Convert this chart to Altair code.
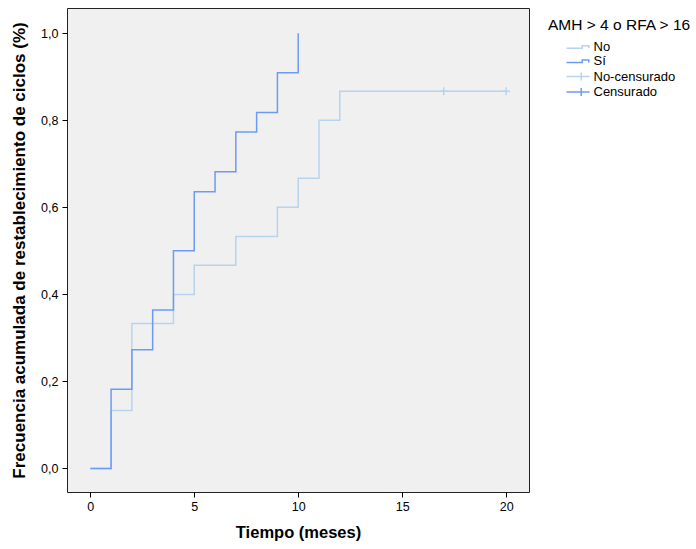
import altair as alt
import pandas as pd

# ---- data ----
tiempo_no = [0, 1, 2, 4, 5, 7, 9, 10, 11, 12, 20]
frec_no = [0.0, 0.133, 0.333, 0.4, 0.467, 0.533, 0.6, 0.667, 0.8, 0.867, 0.867]
tiempo_si = [0, 1, 2, 3, 4, 5, 6, 7, 8, 9, 10]
frec_si = [0.0, 0.182, 0.273, 0.364, 0.5, 0.636, 0.682, 0.773, 0.818, 0.909, 1.0]
censura_tiempo = [17, 20]
censura_frec = [0.867, 0.867]
series = ["No", "Sí", "No-censurado", "Censurado"]
colores = ["#B8D3EE", "#6C9CF2", "#B8D3EE", "#6C9CF2"]
x_ticks = [0, 5, 10, 15, 20]
y_ticks = [0.0, 0.2, 0.4, 0.6, 0.8, 1.0]

df_lines = pd.concat([
    pd.DataFrame({"t": tiempo_no, "f": frec_no, "serie": "No", "orden": 0}),
    pd.DataFrame({"t": tiempo_si, "f": frec_si, "serie": "Sí", "orden": 1}),
])
df_cens = pd.DataFrame({"t": censura_tiempo, "f": censura_frec, "serie": "No-censurado"})

FONT = "Liberation Sans"
x_scale = alt.Scale(domain=[-1.12, 21.1], nice=False, zero=False)
y_scale = alt.Scale(domain=[-0.054, 1.058], nice=False, zero=False)
color_scale = alt.Scale(domain=series, range=colores)

step_path = "M-2.3,0.25H0.84V-0.25H2.16V0.25"
plus_path = "M-2.3,0H2.3M0.64,-0.8V0.8"
shape_scale = alt.Scale(domain=series, range=[step_path, step_path, plus_path, plus_path])

legend = alt.Legend(
    title="AMH > 4 o RFA > 16",
    orient="none",
    legendX=481,
    legendY=10,
    padding=0,
    titleFont=FONT,
    titleFontSize=15.5,
    titleFontWeight="normal",
    titleColor="black",
    titlePadding=7,
    titleLimit=300,
    labelFont=FONT,
    labelFontSize=13,
    labelColor="black",
    symbolSize=100,
    symbolStrokeWidth=1.5,
    symbolOpacity=1,
    symbolFillColor="transparent",
    symbolOffset=23.5,
    labelOffset=9,
    rowPadding=0.3,
)

x_axis = alt.Axis(
    values=x_ticks, title="Tiempo (meses)", grid=False, domain=False,
    tickColor="black", tickSize=5, labelFont=FONT, labelFontSize=12.5, labelColor="black",
    labelPadding=3, titleFont=FONT, titleFontSize=16.5, titleFontWeight="bold",
    titleColor="black", titlePadding=12,
)
y_axis = alt.Axis(
    values=y_ticks, title="Frecuencia acumulada de restablecimiento de ciclos (%)",
    grid=False, domain=False, tickColor="black", tickSize=5,
    labelFont=FONT, labelFontSize=12.5, labelColor="black", labelPadding=4,
    labelExpr="replace(format(datum.value, '.1f'), '.', ',')",
    titleFont=FONT, titleFontSize=17, titleFontWeight="bold", titleColor="black",
    titlePadding=12,
)

legend_layer = alt.Chart(df_cens).mark_point(filled=False, opacity=0, strokeWidth=1.5).encode(
    x=alt.X("t:Q", scale=x_scale, axis=x_axis),
    y=alt.Y("f:Q", scale=y_scale, axis=y_axis),
    color=alt.Color("serie:N", scale=color_scale, legend=legend),
    shape=alt.Shape("serie:N", scale=shape_scale, legend=legend),
)

lines = alt.Chart(df_lines).mark_line(interpolate="step-after", strokeWidth=1.5).encode(
    x=alt.X("t:Q", scale=x_scale),
    y=alt.Y("f:Q", scale=y_scale),
    color=alt.Color("serie:N", scale=color_scale),
    order=alt.Order("orden:Q"),
)

cens = alt.Chart(df_cens).mark_point(
    shape="M-1,0H1M0,-1V1", size=64, filled=False, strokeWidth=1.5, opacity=1
).encode(
    x=alt.X("t:Q", scale=x_scale),
    y=alt.Y("f:Q", scale=y_scale),
    color=alt.Color("serie:N", scale=color_scale),
)

chart = alt.layer(legend_layer, lines, cens).properties(
    width=462, height=484,
    autosize=alt.AutoSizeParams(type="none"),
    padding={"left": 67, "top": 8, "right": 167, "bottom": 57},
    background="white",
).configure_view(
    fill="#F0F0F0", stroke="#222222", strokeWidth=1,
)

chart.save("out.html", embed_options={"renderer": "svg", "actions": False})
